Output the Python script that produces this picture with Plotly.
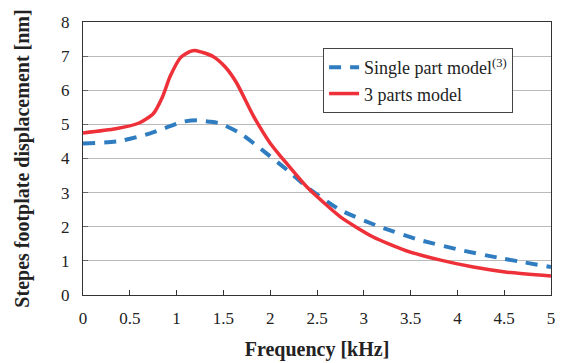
import plotly.graph_objects as go

freq_single = [0, 0.39, 0.71, 1.07, 1.22, 1.35, 1.46, 1.68, 1.96, 2.21, 2.39, 2.75, 3.17, 3.6, 4.03, 4.46, 5.0]
disp_single = [4.44, 4.51, 4.73, 5.08, 5.12, 5.08, 5.03, 4.74, 4.15, 3.6, 3.17, 2.49, 2.0, 1.61, 1.32, 1.08, 0.82]

freq_three = [0, 0.35, 0.6, 0.75, 0.85, 0.93, 1.04, 1.14, 1.21, 1.39, 1.52, 1.64, 1.82, 2.0, 2.18, 2.39, 2.75, 3.1, 3.46, 3.81, 4.17, 4.53, 5.0]
disp_three = [4.75, 4.87, 5.04, 5.31, 5.81, 6.4, 6.95, 7.13, 7.16, 6.99, 6.68, 6.22, 5.25, 4.45, 3.84, 3.17, 2.29, 1.70, 1.29, 1.03, 0.82, 0.67, 0.56]

x_ticks = [0, 0.5, 1, 1.5, 2, 2.5, 3, 3.5, 4, 4.5, 5]
x_tick_labels = ["0", "0.5", "1", "1.5", "2", "2.5", "3", "3.5", "4", "4.5", "5"]
y_ticks = [0, 1, 2, 3, 4, 5, 6, 7, 8]

FONT = "Liberation Serif"

fig = go.Figure()
fig.add_trace(go.Scatter(
    x=freq_single, y=disp_single, mode="lines",
    name="Single part model<sup>(3)</sup>",
    line=dict(color="#2F7DC0", width=4, dash="12px,9px", shape="spline", smoothing=0.6),
))
fig.add_trace(go.Scatter(
    x=freq_three, y=disp_three, mode="lines",
    name="3 parts model",
    line=dict(color="#EE3039", width=3.5, shape="spline", smoothing=0.6),
))

# page body has an 8px margin, so the figure is offset by 8px on screen
fig.update_layout(
    width=555, height=355,
    margin=dict(l=75, r=12, t=14, b=68, autoexpand=False),
    paper_bgcolor="white", plot_bgcolor="white",
    font=dict(family=FONT, size=16, color="#222"),
    legend=dict(
        x=0.513, y=0.905, xanchor="left", yanchor="top",
        bgcolor="white", bordercolor="#444", borderwidth=1,
        font=dict(family=FONT, size=18, color="#222"),
        tracegroupgap=0, itemwidth=30,
    ),
    xaxis=dict(
        range=[0, 5], tickvals=x_ticks, ticktext=x_tick_labels,
        showgrid=False, zeroline=False, automargin=False,
        showline=True, linecolor="#333", linewidth=1, mirror=True,
        ticks="inside", ticklen=5, tickcolor="#333",
        ticklabelstandoff=8,
        tickfont=dict(family=FONT, size=17),
        title=dict(text="<b>Frequency [kHz]</b>", font=dict(family=FONT, size=20), standoff=14),
    ),
    yaxis=dict(
        range=[0, 8], tickvals=y_ticks,
        showgrid=True, gridcolor="#BBBBBB", gridwidth=1, zeroline=False, automargin=False,
        showline=True, linecolor="#333", linewidth=1, mirror=True,
        ticks="inside", ticklen=5, tickcolor="#666",
        ticklabelstandoff=9,
        tickfont=dict(family=FONT, size=17),
        title=dict(text="<b>Stepes footplate displacement [nm]</b>", font=dict(family=FONT, size=20), standoff=26),
    ),
)

fig.write_html("out.html")
